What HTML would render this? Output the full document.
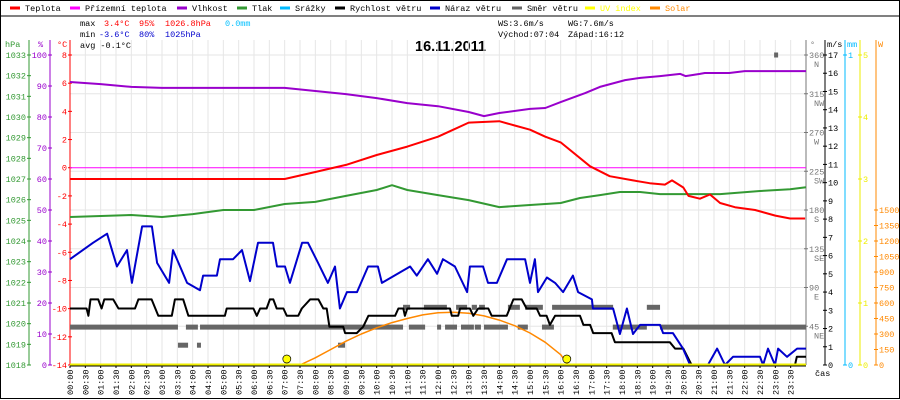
<!DOCTYPE html>
<html><head><meta charset="utf-8"><style>
html,body{margin:0;padding:0;background:#fff;}
svg{display:block;font-family:"Liberation Mono",monospace;font-size:8.5px;}
</style></head><body>
<svg id="chart" width="900" height="400" viewBox="0 0 900 400" xmlns="http://www.w3.org/2000/svg">
<rect x="0.5" y="0.5" width="899" height="398" fill="#fff" stroke="#000"/>
<line x1="0" y1="16" x2="900" y2="16" stroke="#000"/>
<g id="legend"></g>
<g>
<text x="80" y="26" fill="#000">max</text>
<text x="104" y="26" fill="#f00">3.4°C</text>
<text x="139" y="26" fill="#f00">95%</text>
<text x="165" y="26" fill="#f00">1026.8hPa</text>
<text x="225" y="26" fill="#00bfff">0.0mm</text>
<text x="80" y="37" fill="#000">min</text>
<text x="99" y="37" fill="#00c">-3.6°C</text>
<text x="139" y="37" fill="#00c">80%</text>
<text x="165" y="37" fill="#00c">1025hPa</text>
<text x="80" y="48" fill="#000">avg -0.1°C</text>
<text x="498" y="26" fill="#000">WS:3.6m/s</text>
<text x="568" y="26" fill="#000">WG:7.6m/s</text>
<text x="498" y="37" fill="#000">Východ:07:04</text>
<text x="568" y="37" fill="#000">Západ:16:12</text>
</g>
<text x="415" y="51" font-family="Liberation Sans,sans-serif" font-weight="bold" font-size="14.5px" fill="#000">16.11.2011</text>
<g id="grid"></g>
<g id="axes"></g>
<g id="series"></g>
<g id="xaxis"></g>
</svg>
<script>
// ---- data ----
const tempT=[0,7,8,9,10,11,12,12.5,13,14,14.5,15,15.5,16,16.96,17.6,18.36,18.9,19.4,19.63,20.0,20.17,20.54,20.87,21.2,21.68,22.34,23.0,23.48,23.97];
const tempV=[-0.8,-0.8,-0.3,0.2,0.9,1.5,2.2,2.7,3.2,3.3,3.0,2.7,2.2,1.8,0.1,-0.6,-0.9,-1.1,-1.2,-0.9,-1.4,-2.0,-2.2,-1.9,-2.5,-2.8,-3.0,-3.4,-3.6,-3.6];
const humT=[0,1,2,3,5,7,8,9,10,11,12,13,13.5,14,15,15.5,16,16.8,17.28,18.1,18.6,19.24,19.9,20.07,20.54,20.7,21.5,22.0,24];
const humV=[91.3,90.6,89.7,89.4,89.4,89.4,88.4,87.4,86.1,84.5,83.5,81.6,80.3,81.3,82.6,82.9,84.8,87.7,89.7,91.9,92.6,93.2,93.9,93.2,93.9,94.2,94.2,94.8,94.8];
const pressT=[0,2,3,4,5,6,7,8,9,10,10.5,11,12,13,14,15,16,16.63,17.28,17.93,18.59,19.24,21.2,22.5,23.48,24];
const pressV=[1025.16,1025.26,1025.16,1025.3,1025.5,1025.5,1025.79,1025.89,1026.18,1026.47,1026.7,1026.47,1026.22,1025.98,1025.64,1025.74,1025.84,1026.08,1026.22,1026.37,1026.37,1026.27,1026.27,1026.42,1026.5,1026.6];
const gustT=[0,0.75,1.21,1.53,1.86,2.02,2.35,2.67,2.84,3.23,3.36,3.82,4.24,4.34,4.79,4.89,5.32,5.61,5.87,6.13,6.62,6.75,7.01,7.17,7.57,7.76,8.09,8.41,8.64,8.8,9.03,9.36,9.72,10.04,10.17,11.09,11.31,11.67,11.97,12.16,12.55,12.95,13.04,13.47,13.63,13.92,14.25,14.84,15.0,15.16,15.26,15.55,15.82,16.08,16.4,16.57,17.02,17.05,17.71,17.93,18.16,18.36,18.59,19.24,19.34,19.66,19.99,20.22,20.8,21.1,21.36,21.62,22.5,22.6,22.76,22.99,23.09,23.38,23.71,24];
const gustV=[5.8,6.7,7.2,5.4,6.3,4.5,7.6,7.6,5.6,4.5,6.3,4.5,4.1,4.9,4.9,5.8,5.8,6.3,4.6,6.7,6.7,5.4,5.4,4.5,6.7,6.7,5.6,4.5,5.4,3.1,4.0,4.0,5.4,5.4,4.5,5.4,4.9,5.8,5.0,5.8,5.4,4.0,5.4,5.4,4.5,4.5,5.8,5.8,4.5,5.8,4.0,4.8,4.5,4.0,4.9,4.0,3.6,3.1,3.1,1.7,3.1,1.7,2.2,2.2,1.75,1.75,0.9,0,0,0.9,0,0.45,0.45,0,0.9,0,0.9,0.45,0.9,0.9];
const windT=[0,0.54,0.6,0.67,0.92,1.03,1.12,1.41,1.58,2.12,2.23,2.66,2.88,3.32,3.42,3.69,3.86,5.05,5.11,5.98,6.09,6.2,6.41,6.52,6.63,6.74,6.96,7.07,7.44,7.56,7.83,8.1,8.26,8.37,8.46,8.91,8.97,9.35,9.56,9.73,10.6,10.71,10.87,10.92,11.0,12.06,12.39,12.45,12.66,12.72,13.04,13.15,13.31,13.64,13.75,14.24,14.46,14.73,14.89,15.22,15.33,15.54,15.65,15.82,16.63,16.74,16.96,17.06,17.66,17.77,19.56,19.73,20.0,20.27,23.64,23.7,24];
const windV=[3.1,3.1,2.7,3.6,3.6,3.1,3.6,3.6,3.1,3.1,3.6,3.6,2.7,2.7,3.6,3.6,2.7,2.7,3.1,3.1,2.7,3.1,3.1,3.6,3.6,3.1,3.1,2.7,2.7,3.1,3.6,3.6,3.1,3.1,2.1,2.1,1.75,1.75,2.1,2.7,2.7,3.1,3.1,2.7,3.1,3.1,3.1,2.7,2.7,3.1,3.1,2.7,3.1,3.1,2.7,2.7,3.6,3.6,3.1,3.1,2.7,2.7,2.2,2.7,2.7,2.2,2.2,1.75,1.75,1.25,1.25,0.9,0.9,0,0,0.45,0.45];
const dirStart=[0,3.78,4.24,11.05,11.97,12.23,12.75,13.2,13.5,14.6,15.39,17.7,19.24,10.86,11.54,12.59,13.1,13.34,14.28,14.84,15.72,18.81,3.52,4.14,8.74,22.96];
const dirEnd=[3.52,4.17,10.86,11.58,12.06,12.62,13.17,13.4,14.28,14.93,15.78,18.81,24,11.09,12.29,12.95,13.27,13.53,14.67,15.42,17.71,19.24,3.85,4.24,8.97,23.09];
const dirDeg=[44,44,44,44,44,44,44,44,44,44,44,44,44,67,67,67,67,67,67,67,67,67,23,23,23,360];
const solarT=[7.5,8,8.5,9,9.5,10,10.5,11,11.5,12,12.5,13,13.5,14,14.5,15,15.5,16,16.25];
const solarV=[0,70,150,230,300,360,410,450,485,505,510,500,475,435,380,310,220,100,0];
const sunEvents=[7.07,16.2];
const hpaTicks=[1018,1019,1020,1021,1022,1023,1024,1025,1026,1027,1028,1029,1030,1031,1032,1033];
const humTicks=[0,10,20,30,40,50,60,70,80,90,100];
const tempTicks=[-14,-12,-10,-8,-6,-4,-2,0,2,4,6,8];
const dirTicks=[45,90,135,180,225,270,315,360];
const dirNames=["NE","E","SE","S","SW","W","NW","N"];
const msTicks=[0,1,2,3,4,5,6,7,8,9,10,11,12,13,14,15,16,17];
const uvTicks=[0,1,2,3,4,5];
const solarTicks=[0,150,300,450,600,750,900,1050,1200,1350,1500];
const legendNames=["Teplota","Přízemní teplota","Vlhkost","Tlak","Srážky","Rychlost větru","Náraz větru","Směr větru","UV index","Solar"];
const legendColors=["#f00","#f0f","#90c","#393","#0bf","#000","#00c","#666","#ff0","#f80"];

// ---- scales ----
const X0=70,X1=806,Y0=365,Y1=55;
const xs=t=>X0+(X1-X0)*t/24;
const yT=v=>Y0-(v+14)/22*(Y0-Y1);
const yH=v=>Y0-v/100*(Y0-Y1);
const yP=v=>Y0-(v-1018)/15*(Y0-Y1);
const yW=v=>Y0-v/17*(Y0-Y1);
const yD=v=>Y0-v/360*(Y0-Y1);
const yU=v=>Y0-v/5*(Y0-Y1);
const yS=v=>Y0-v*(Y0-210)/1500;
const NS="http://www.w3.org/2000/svg";
function mk(tag,attrs,parent,txt){const e=document.createElementNS(NS,tag);for(const k in attrs)e.setAttribute(k,attrs[k]);if(txt!==undefined)e.textContent=txt;parent.appendChild(e);return e;}
const G=id=>document.getElementById(id);

// legend
const lx=[10,70,177,237,280,335,430,512,585,650];
legendNames.forEach((n,i)=>{
  const l=mk('line',{x1:lx[i],x2:lx[i]+10,y1:8,y2:8,stroke:legendColors[i],'stroke-width':3},G('legend'));
  
  
  const t=mk('text',{x:lx[i]+15,y:11,fill:(i>=8?legendColors[i]:'#000')},G('legend'),n);
  
  
});

// grid
for(let i=0;i<=48;i++){const x=xs(i/2);
  const g=mk('line',{x1:x,x2:x,y1:40,y2:Y0,stroke:'#e6e6e6'},G('grid'));
  
  }
dirTicks.forEach(d=>{const y=yD(d);
  const g=mk('line',{x1:X0,x2:X1,y1:y,y2:y,stroke:'#e6e6e6'},G('grid'));
  
  });

// axes helper
function axis(x,color,ticks,yf,name,side,labelFn){
  const a=mk('line',{x1:x,x2:x,y1:40,y2:Y0,stroke:color},G('axes'));
  
  
  ticks.forEach((v,i)=>{const y=yf(v);
    mk('line',{x1:x-2,x2:x+2,y1:y,y2:y,stroke:color},G('axes'));
    const t=mk('text',{x:side<0?x-3:x+3,y:y+3,fill:color,'text-anchor':side<0?'end':'start'},G('axes'),labelFn?labelFn(v,i):String(v));
    
    });
}
axis(29,'#393',hpaTicks,yP,'hpa-axis',-1);
axis(50,'#90c',humTicks,yH,'humidity-axis',-1);
axis(70,'#f00',tempTicks,yT,'temp-axis',-1);
axis(X1,'#777',dirTicks,yD,'direction-axis',1);
dirTicks.forEach((d,i)=>{const t=mk('text',{x:X1+8,y:yD(d)+12,fill:'#777'},G('axes'),dirNames[i]);
  
  });
axis(825,'#000',msTicks,yW,'wind-axis',1);
axis(845,'#0bf',[0,1],v=>Y0-v*(Y0-Y1),'rain-axis',1);
axis(860,'#ee0',uvTicks,yU,'uv-axis',1);
axis(876,'#f80',solarTicks,yS,'solar-axis',1);
[['hPa',5,'#393'],['%',38,'#90c'],['°C',57,'#f00'],['°',810,'#777'],['m/s',827,'#000'],['mm',847,'#0bf'],['W',878,'#f80']].forEach(h=>{
  const t=mk('text',{x:h[1],y:47,fill:h[2]},G('axes'),h[0]);
  
  });

// series
function line(T,V,yf,color,w,name){
  const pts=T.map((t,i)=>xs(t).toFixed(1)+','+yf(V[i]).toFixed(1)).join(' ');
  const p=mk('polyline',{points:pts,fill:'none',stroke:color,'stroke-width':w,'stroke-linejoin':'round'},G('series'));
  
  
}
const zl=mk('line',{x1:X0,x2:X1,y1:yT(0),y2:yT(0),stroke:'#f0f'},G('series'));


dirStart.forEach((s,i)=>{
  const r=mk('rect',{x:xs(s),y:yD(dirDeg[i])-2.5,width:Math.max(4,xs(dirEnd[i])-xs(s)),height:5,fill:'#666'},G('series'));
  
  
});
line(solarT,solarV,yS,'#f80',1.5,'solar-line');
line(windT,windV,yW,'#000',2,'wind-speed-line');
line(gustT,gustV,yW,'#00c',2,'wind-gust-line');
line(pressT,pressV,yP,'#393',2,'pressure-line');
line(humT,humV,yH,'#90c',2,'humidity-line');
line(tempT,tempV,yT,'#f00',2,'temperature-line');
const uv=mk('line',{x1:X0,x2:X1,y1:Y0-0.5,y2:Y0-0.5,stroke:'#ee0','stroke-width':2},G('series'));


sunEvents.forEach(t=>{const c=mk('circle',{cx:xs(t),cy:359,r:4,fill:'#ff0',stroke:'#000','stroke-width':0.7},G('series'));
  
  });

// x axis
const xa=mk('line',{x1:X0,x2:X1,y1:Y0+1,y2:Y0+1,stroke:'#000'},G('xaxis'));


for(let i=0;i<48;i++){const x=xs(i/2);
  mk('line',{x1:x,x2:x,y1:Y0+1,y2:Y0+3,stroke:'#000'},G('xaxis'));
  const lab=String(Math.floor(i/2)).padStart(2,'0')+':'+(i%2?'30':'00');
  const t=mk('text',{x:0,y:0,transform:'translate('+(x+3)+',395) rotate(-90)',fill:'#000'},G('xaxis'),lab);
  
  }
const ct=mk('text',{x:815,y:376,fill:'#000'},G('xaxis'),'čas');


</script>
</body></html>
